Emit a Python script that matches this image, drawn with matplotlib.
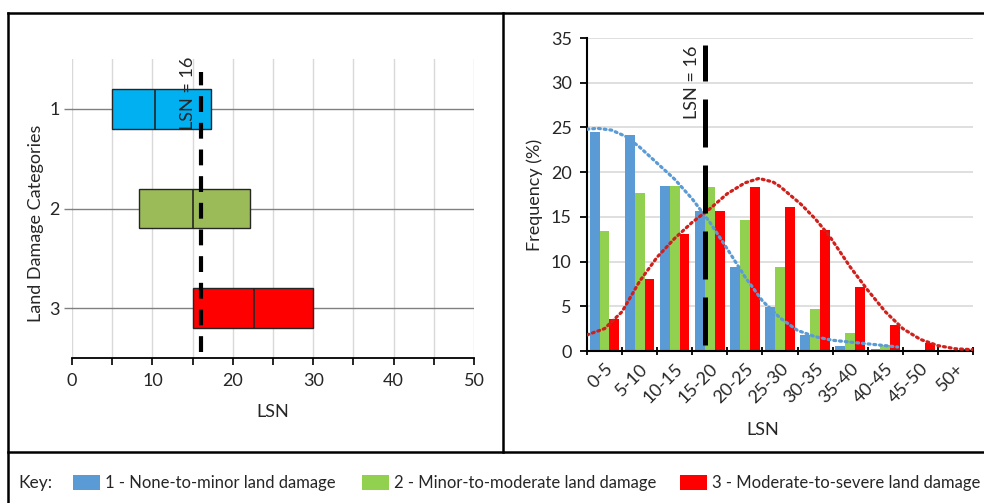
import matplotlib.pyplot as plt
from matplotlib.lines import Line2D
from matplotlib.patches import Rectangle

plt.rcParams['font.family'] = ['Lato', 'DejaVu Sans']
plt.rcParams['font.size'] = 13

# ---- box plot data (LSN per land damage category) ----
categories = ['1', '2', '3']
q1 = [5.0, 8.3, 15.0]
median = [10.35, 15.1, 22.6]
q3 = [17.3, 22.2, 30.0]
whisker_lo = [0, 0, 0]
whisker_hi = [50, 50, 50]
box_colors = ['#00B0F0', '#9BBB59', '#FF0000']

LSN_THRESHOLD = 16

# ---- histogram data (frequency %) ----
bins = ['0-5', '5-10', '10-15', '15-20', '20-25', '25-30',
        '30-35', '35-40', '40-45', '45-50', '50+']
freq_none_minor = [24.5, 24.2, 18.4, 15.6, 9.4, 4.9, 1.8, 0.6, 0.2, 0.0, 0.0]
freq_minor_mod = [13.4, 17.7, 18.4, 18.3, 14.7, 9.4, 4.7, 2.0, 0.7, 0.15, 0.0]
freq_mod_severe = [3.6, 8.1, 13.1, 15.7, 18.3, 16.1, 13.5, 7.2, 2.9, 0.95, 0.25]

# trend lines (position on bin axis, frequency %)
trend_blue_x = [-0.5, -0.2, 0.2, 0.6, 1.0, 1.5, 2.0, 2.5, 3.0, 3.5, 4.0,
                4.5, 5.0, 5.5, 6.0, 6.5, 7.0, 7.5, 8.0, 8.35]
trend_blue_y = [24.8, 24.9, 24.7, 24.0, 22.8, 21.0, 19.2, 17.0, 14.4, 11.4, 8.3,
                5.6, 3.7, 2.3, 1.6, 1.2, 1.0, 0.8, 0.6, 0.45]
trend_red_x = [-0.5, 0.0, 0.5, 1.0, 1.5, 2.0, 2.5, 3.0, 3.5, 4.0, 4.4, 4.8,
               5.0, 5.6, 6.0, 6.4, 7.0, 7.5, 8.0, 8.5, 9.0, 9.5, 10.0, 10.5]
trend_red_y = [1.8, 2.5, 4.4, 7.8, 10.5, 12.6, 14.4, 15.9, 17.6, 18.8, 19.3, 18.9,
               18.4, 16.4, 14.8, 12.9, 9.4, 6.8, 4.4, 2.5, 1.3, 0.6, 0.25, 0.15]

key_labels = ['1 - None-to-minor land damage',
              '2 - Minor-to-moderate land damage',
              '3 - Moderate-to-severe land damage']
key_colors = ['#5B9BD5', '#92D050', '#FF0000']

W, H = 984, 503
fig = plt.figure(figsize=(W / 100, H / 100), dpi=100)
txt = '#262626'


def px(x0, y0, x1, y1):
    """pixel box (left, top, right, bottom) -> figure rect"""
    return [x0 / W, 1 - y1 / H, (x1 - x0) / W, (y1 - y0) / H]


# ---------------- left: box plots ----------------
ax1 = fig.add_axes(px(72, 59, 474, 358))
stats = []
for i in range(3):
    stats.append(dict(label=categories[i], q1=q1[i], med=median[i], q3=q3[i],
                      whislo=whisker_lo[i], whishi=whisker_hi[i], fliers=[]))
bp = ax1.bxp(stats, positions=[1, 2, 3], widths=0.4, orientation='horizontal',
             patch_artist=True, showcaps=False, showfliers=False,
             boxprops=dict(edgecolor='#262626', linewidth=1),
             medianprops=dict(color='#262626', linewidth=1.2),
             whiskerprops=dict(color='#808080', linewidth=1))
for patch, c in zip(bp['boxes'], box_colors):
    patch.set_facecolor(c)
    patch.set_zorder(3)
for m in bp['medians']:
    m.set_zorder(4)

ax1.set_xlim(0, 50)
ax1.set_ylim(3.5, 0.5)
ax1.set_xticks(range(0, 51, 10))
ax1.set_xticks(range(5, 50, 10), minor=True)
ax1.set_yticks([1, 2, 3])
ax1.set_yticklabels(categories)
ax1.grid(axis='x', which='both', color='#d9d9d9', linewidth=1, zorder=0)
ax1.set_axisbelow(True)
for s in ['top', 'right', 'left']:
    ax1.spines[s].set_visible(False)
ax1.spines['bottom'].set_color('black')
ax1.spines['bottom'].set_linewidth(1.3)
ax1.tick_params(axis='x', which='both', length=5, width=1.2, color='black',
                pad=6, labelcolor=txt)
ax1.tick_params(axis='y', length=6, width=1, color='#808080', pad=3, labelcolor=txt)
ax1.set_xlabel('LSN', color=txt)
ax1.xaxis.set_label_coords(0.5, -0.155)
ax1.set_ylabel('Land Damage Categories', color=txt)
ax1.yaxis.set_label_coords(-0.07, 0.45)

ax1.plot([LSN_THRESHOLD, LSN_THRESHOLD], [3.44, 0.63], color='black', lw=3,
         linestyle=(0, (3.8, 2.6)), zorder=6)
ax1.text(14.4, 0.84, 'LSN = 16', rotation=90, ha='center', va='center',
         color=txt, zorder=7)

# ---------------- right: histogram ----------------
ax2 = fig.add_axes(px(587, 38, 973, 351))
idx = list(range(len(bins)))
bw = 0.28
series = [freq_none_minor, freq_minor_mod, freq_mod_severe]
for k, (vals, c) in enumerate(zip(series, key_colors)):
    ax2.bar([i + (k - 1) * bw for i in idx], vals, width=bw, color=c, zorder=2)

ax2.plot(trend_blue_x, trend_blue_y, color='#5B9BD5', lw=2.3,
         linestyle=(0, (0.6, 1.2)), dash_capstyle='round', zorder=3)
ax2.plot(trend_red_x, trend_red_y, color='#D0201C', lw=2.3,
         linestyle=(0, (0.6, 1.2)), dash_capstyle='round', zorder=3)

# threshold marker sits just inside the 15-20 bin
thr_pos = (LSN_THRESHOLD - 15) / 5 + 2.67
ax2.plot([thr_pos, thr_pos], [0.7, 34.2], color='black', lw=3.6,
         linestyle=(0, (9.6, 3.6)), zorder=5)
ax2.text(thr_pos - 0.37, 30.1, 'LSN = 16', rotation=90, ha='center', va='center',
         color=txt, zorder=6)

ax2.set_xlim(-0.5, len(bins) - 0.5)
ax2.set_ylim(0, 35)
ax2.set_yticks(range(0, 36, 5))
ax2.set_xticks(idx)
ax2.set_xticklabels(bins, rotation=45, ha='right', rotation_mode='anchor')
ax2.set_xticks([i - 0.5 for i in range(len(bins) + 1)], minor=True)
ax2.tick_params(axis='x', which='major', length=0, pad=7, labelcolor=txt)
ax2.tick_params(axis='x', which='minor', length=6, width=1.3, color='black',
                direction='inout')
ax2.tick_params(axis='y', length=5, width=1.3, color='black', pad=6, labelcolor=txt)
ax2.grid(axis='y', color='#d9d9d9', linewidth=1.2, zorder=0)
ax2.set_axisbelow(True)
for s in ['top', 'right']:
    ax2.spines[s].set_visible(False)
for s in ['left', 'bottom']:
    ax2.spines[s].set_linewidth(1.5)
    ax2.spines[s].set_color('black')
ax2.set_xlabel('LSN', color=txt)
ax2.xaxis.set_label_coords(0.456, -0.228)
ax2.set_ylabel('Frequency (%)', color=txt)
ax2.yaxis.set_label_coords(-0.114, 0.5)

# ---------------- frame and key ----------------
frame = [((7.5, 13), (984, 13)),
         ((7.5, 13), (7.5, 503)),
         ((7.5, 452), (984, 452)),
         ((503, 13), (503, 452))]
for (x0, y0), (x1, y1) in frame:
    fig.add_artist(Line2D([x0 / W, x1 / W], [1 - y0 / H, 1 - y1 / H],
                          transform=fig.transFigure, color='black', lw=1.8))

fig.text(18 / W, 1 - 483 / H, 'Key:', ha='left', va='center', color=txt, fontsize=12.5)
key_x = [73, 362, 680]
for x0, lab, c in zip(key_x, key_labels, key_colors):
    fig.add_artist(Rectangle((x0 / W, 1 - 490 / H), 27 / W, 15 / H,
                             transform=fig.transFigure, facecolor=c, edgecolor='none'))
    fig.text((x0 + 32) / W, 1 - 483 / H, lab, ha='left', va='center',
             color=txt, fontsize=12)

fig.savefig('out.png', dpi=100)
